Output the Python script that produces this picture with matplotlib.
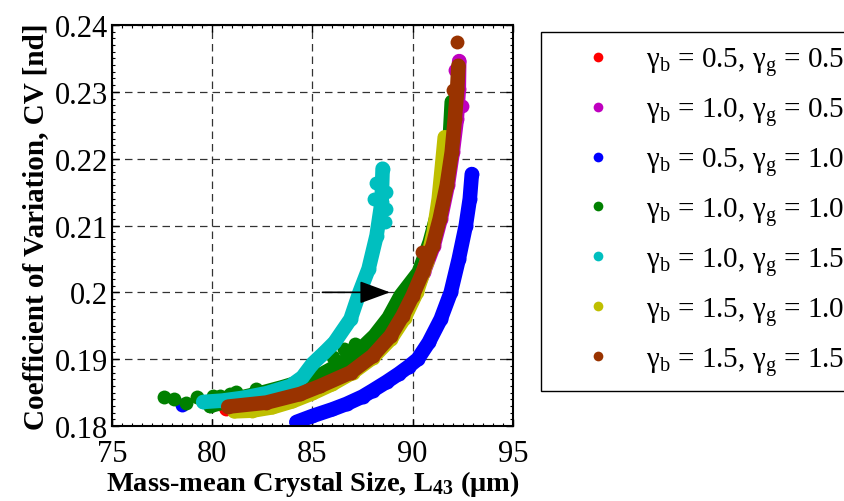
import numpy as np
import matplotlib.pyplot as plt
from matplotlib.lines import Line2D
from matplotlib.ticker import MultipleLocator

plt.rcParams['font.family'] = 'Liberation Serif'
plt.rcParams['mathtext.fontset'] = 'custom'
plt.rcParams['mathtext.rm'] = 'Liberation Serif'
plt.rcParams['mathtext.it'] = 'Liberation Serif:italic'
plt.rcParams['mathtext.bf'] = 'Liberation Serif:bold'

# legend text and colours, in drawing order
labels = [r'γ$_{\mathrm{b}}$ = 0.5, γ$_{\mathrm{g}}$ = 0.5',
          r'γ$_{\mathrm{b}}$ = 1.0, γ$_{\mathrm{g}}$ = 0.5',
          r'γ$_{\mathrm{b}}$ = 0.5, γ$_{\mathrm{g}}$ = 1.0',
          r'γ$_{\mathrm{b}}$ = 1.0, γ$_{\mathrm{g}}$ = 1.0',
          r'γ$_{\mathrm{b}}$ = 1.0, γ$_{\mathrm{g}}$ = 1.5',
          r'γ$_{\mathrm{b}}$ = 1.5, γ$_{\mathrm{g}}$ = 1.0',
          r'γ$_{\mathrm{b}}$ = 1.5, γ$_{\mathrm{g}}$ = 1.5']
colors = ['#ff0000', '#bf00bf', '#0000ff', '#008000', '#00bfbf', '#bfbf00', '#993300']

# L43 (um) vs CV
red_x = [80.7, 82.7, 84.4, 85.4, 86.9, 88.0, 88.9, 89.5, 90.0, 90.5, 91.0, 91.35, 91.7, 91.95]
red_y = [0.1826, 0.1834, 0.1847, 0.1859, 0.1879, 0.1904, 0.1934, 0.1964, 0.1994, 0.2030, 0.2070, 0.2110, 0.2160, 0.2210]
red_sx, red_sy = [], []

mag_x = [80.9, 82.7, 84.4, 85.4, 86.9, 88.0, 88.9, 89.55, 90.05, 90.55, 91.05, 91.4, 91.75, 92.0, 92.2, 92.3, 92.32]
mag_y = [0.1829, 0.1835, 0.1848, 0.1860, 0.1880, 0.1905, 0.1935, 0.1965, 0.1995, 0.2030, 0.2070, 0.2110, 0.2160, 0.2210, 0.2259, 0.2304, 0.2346]
mag_sx, mag_sy = [92.45, 92.1], [0.2279, 0.2332]

blue_x = [84.2, 85.0, 86.0, 86.7, 87.5, 88.0, 88.7, 89.3, 89.8, 90.25, 90.8, 91.4, 91.9, 92.3, 92.65, 92.85, 92.95]
blue_y = [0.1806, 0.1815, 0.1825, 0.1833, 0.1844, 0.1853, 0.1866, 0.1878, 0.1889, 0.1900, 0.1925, 0.1960, 0.2000, 0.2050, 0.2100, 0.2140, 0.2177]
blue_sx, blue_sy = [78.5], [0.1831]

green_x = [79.9, 80.6, 81.5, 82.5, 83.5, 84.5, 85.5, 86.4, 87.3, 88.1, 88.8, 89.4, 90.3, 90.85, 91.3, 91.6, 91.85, 91.95]
green_y = [0.1830, 0.1836, 0.1843, 0.1850, 0.1858, 0.1867, 0.1878, 0.1893, 0.1912, 0.1935, 0.1962, 0.1995, 0.2030, 0.2075, 0.2125, 0.2175, 0.2230, 0.2285]
green_sx = [77.6, 78.1, 78.7, 79.25, 80.05, 80.4, 80.9, 81.2, 82.2, 86.05, 86.55, 87.1]
green_sy = [0.1844, 0.1840, 0.1834, 0.1844, 0.1845, 0.1845, 0.1848, 0.1851, 0.1855, 0.1903, 0.1915, 0.1922]

cyan_x = [79.55, 80.5, 81.5, 82.7, 83.9, 84.5, 85.0, 85.6, 86.1, 86.9, 87.35, 87.8, 88.2, 88.45, 88.5]
cyan_y = [0.1836, 0.1838, 0.1842, 0.1849, 0.1860, 0.1873, 0.1893, 0.1910, 0.1925, 0.1960, 0.2000, 0.2035, 0.2085, 0.2135, 0.2185]
cyan_sx = [88.05, 88.15, 88.65, 88.65, 88.6]
cyan_sy = [0.2140, 0.2163, 0.2150, 0.2125, 0.2105]

yel_x = [81.1, 82.0, 83.0, 84.0, 85.0, 86.0, 87.0, 88.0, 88.9, 89.6, 90.2, 90.7, 91.05, 91.3, 91.45, 91.6]
yel_y = [0.1822, 0.1823, 0.1828, 0.1837, 0.1849, 0.1863, 0.1880, 0.1902, 0.1930, 0.1962, 0.2000, 0.2045, 0.2090, 0.2140, 0.2185, 0.2232]
yel_sx, yel_sy = [], []

brown_x = [80.8, 82.7, 84.4, 85.4, 86.9, 88.0, 88.9, 89.5, 90.0, 90.5, 91.0, 91.35, 91.7, 91.95, 92.1, 92.22, 92.28]
brown_y = [0.1829, 0.1835, 0.1848, 0.1860, 0.1880, 0.1905, 0.1935, 0.1965, 0.1995, 0.2030, 0.2070, 0.2110, 0.2160, 0.2210, 0.2259, 0.2304, 0.2339]
brown_sx, brown_sy = [92.2, 92.02, 90.45], [0.2375, 0.2302, 0.2060]

series = [(red_x, red_y, red_sx, red_sy), (mag_x, mag_y, mag_sx, mag_sy),
          (blue_x, blue_y, blue_sx, blue_sy), (green_x, green_y, green_sx, green_sy),
          (cyan_x, cyan_y, cyan_sx, cyan_sy), (yel_x, yel_y, yel_sx, yel_sy),
          (brown_x, brown_y, brown_sx, brown_sy)]

fig = plt.figure(figsize=(8.45, 5.02), dpi=100)
ax = fig.add_axes([0.1325, 0.1494, 0.4745, 0.7988])

for (x, y, sx, sy), c in zip(series, colors):
    ax.plot(x, y, '-', color=c, lw=10.5, solid_capstyle='round', solid_joinstyle='round')
    ax.plot(x + sx, y + sy, 'o', ms=10, color=c, mec='none', ls='none')

ax.annotate('', xy=(88.87, 0.2), xytext=(85.5, 0.2),
            arrowprops=dict(arrowstyle='-|>,head_length=1.9,head_width=0.7',
                            color='k', lw=1.2, shrinkA=0, shrinkB=0))

ax.set_xlim(75, 95)
ax.set_ylim(0.18, 0.24)
ax.set_xticks(np.arange(75, 96, 5))
ax.set_yticks(np.arange(0.18, 0.2401, 0.01))
ax.yaxis.set_major_formatter(plt.FuncFormatter(lambda v, p: '%g' % round(v, 3)))
ax.xaxis.set_minor_locator(MultipleLocator(0.5))
ax.yaxis.set_minor_locator(MultipleLocator(0.001))
ax.tick_params(which='both', direction='in', top=True, right=True, labelsize=22, colors='k')
ax.tick_params(which='major', length=5, width=1)
ax.tick_params(which='minor', length=2.5, width=0.8)
ax.tick_params(axis='x', pad=9)
ax.tick_params(axis='y', pad=3)
ax.grid(True, which='major', color='#333333', ls=(0, (6, 4)), lw=0.9)
for s in ax.spines.values():
    s.set_linewidth(1.5)

ax.set_xlabel(r'Mass-mean Crystal Size, L$_{\mathbf{43}}$ (μm)', fontsize=20.5, fontweight='bold', labelpad=0)
ax.set_ylabel('Coefficient of Variation, CV [nd]', fontsize=21, fontweight='bold', labelpad=4)

handles = [Line2D([], [], ls='none', marker='o', ms=7, color=c, mec='none') for c in colors]
leg = fig.legend(handles, labels, loc='upper left', bbox_to_anchor=(541 / 845, 1 - 33 / 502),
                 fontsize=21, frameon=True, fancybox=False, edgecolor='k', framealpha=1,
                 handlelength=3.0, handletextpad=0.15, labelspacing=0.58, borderpad=0.45,
                 borderaxespad=0)
leg.get_frame().set_linewidth(1.0)

fig.savefig('out.png', dpi=100)
